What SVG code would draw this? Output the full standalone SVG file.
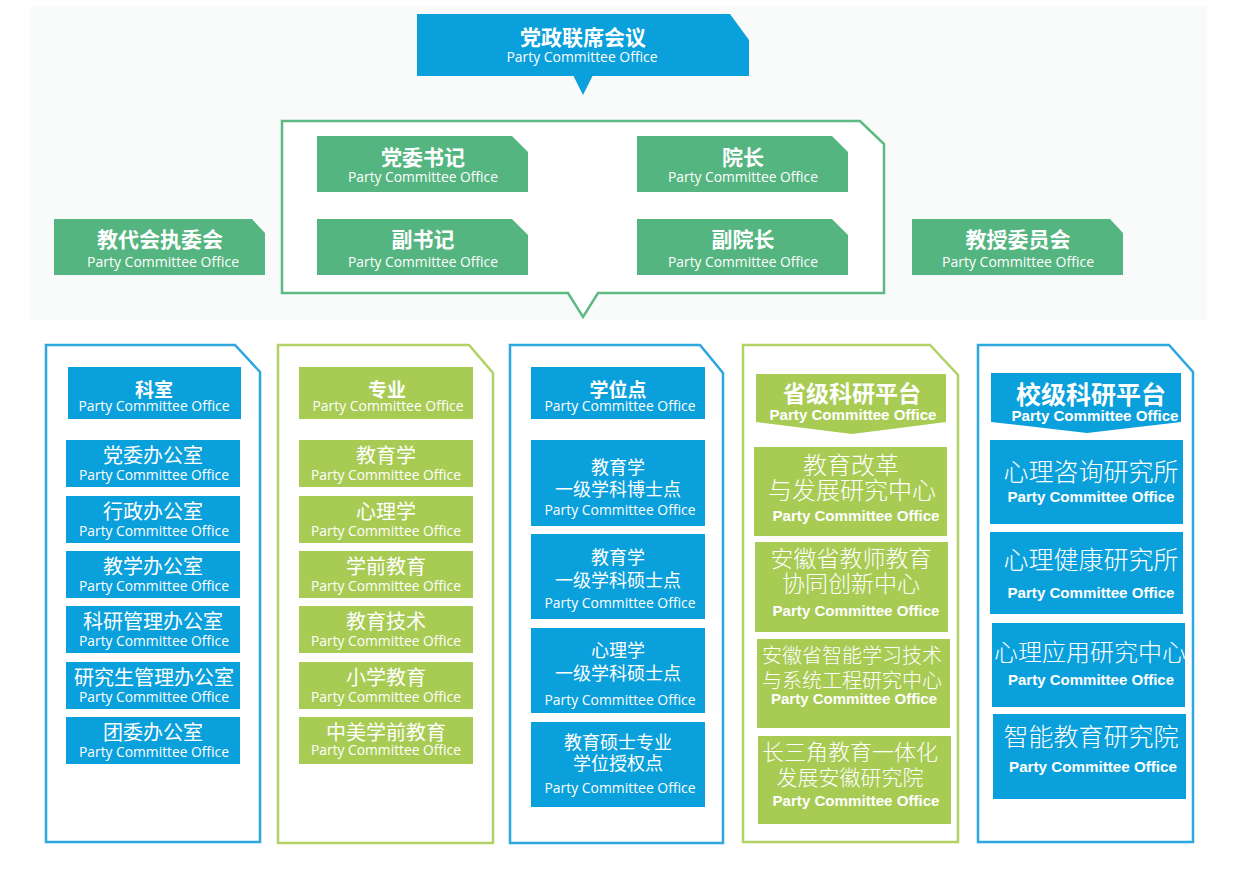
<svg xmlns="http://www.w3.org/2000/svg" width="1246" height="880" viewBox="0 0 1246 880">
<style>
.blue{fill:#0aa0dc}
.green{fill:#55b580}
.lime{fill:#a8cb54}
.frame-g{fill:#fff;stroke:#5dba83;stroke-width:2.5}
.frame-b{fill:#fff;stroke:#2ea6de;stroke-width:2.5}
.frame-l{fill:#fff;stroke:#b2d265;stroke-width:2.5}
text{fill:#fff;text-anchor:middle}
.t{font-family:"Noto Sans CJK SC",sans-serif;font-weight:700}
.c{font-family:"Noto Sans CJK SC",sans-serif;font-weight:400}
.cl{font-family:"Noto Sans CJK SC",sans-serif;font-weight:300}
.s{font-family:"Open Sans","Liberation Sans",sans-serif;font-size:14px}
.sb{font-family:"Liberation Sans","DejaVu Sans",sans-serif;font-size:14px;font-weight:700}
</style>
<rect x="0" y="0" width="1246" height="880" fill="#ffffff"/>
<rect x="30" y="6" width="1177" height="314" fill="#f9fafa"/>

<g id="connectors">
  <path class="blue" d="M573,75 L583,95 L593,75 Z"/>
  <path class="green" d="M413,191 L423,208 L433,191 Z"/>
  <path class="green" d="M733,191 L743,208 L753,191 Z"/>
  <path class="blue" d="M144,418 L154,436 L164,418 Z"/>
  <path class="lime" d="M377,418 L387,436 L397,418 Z"/>
  <path class="blue" d="M607,418 L617,436 L627,418 Z"/>
</g>

<g id="n-top">
  <path class="blue" d="M417,14 H730 L749,40 V76 H417 Z"/>
  <text class="t" x="583" y="45" font-size="21">党政联席会议</text>
  <text class="s" x="582" y="62" textLength="151" lengthAdjust="spacingAndGlyphs">Party Committee Office</text>
</g>

<g id="leadership">
  <path class="frame-g" d="M282,121 H860 L884,144 V293 H598 L583,317 L568,293 H282 Z"/>
</g>

<g id="n-dwsj">
  <path class="green" d="M317,136 H512 L528,152 V192 H317 Z"/>
  <text class="t" x="423" y="165" font-size="21">党委书记</text>
  <text class="s" x="423" y="182" textLength="150" lengthAdjust="spacingAndGlyphs">Party Committee Office</text>
</g>
<g id="n-fsj">
  <path class="green" d="M317,219 H512 L528,235 V275 H317 Z"/>
  <text class="t" x="423" y="247" font-size="21">副书记</text>
  <text class="s" x="423" y="267" textLength="150" lengthAdjust="spacingAndGlyphs">Party Committee Office</text>
</g>
<g id="n-yz">
  <path class="green" d="M637,136 H832 L848,152 V192 H637 Z"/>
  <text class="t" x="743" y="165" font-size="21">院长</text>
  <text class="s" x="743" y="182" textLength="150" lengthAdjust="spacingAndGlyphs">Party Committee Office</text>
</g>
<g id="n-fyz">
  <path class="green" d="M637,219 H832 L848,235 V275 H637 Z"/>
  <text class="t" x="743" y="247" font-size="21">副院长</text>
  <text class="s" x="743" y="267" textLength="150" lengthAdjust="spacingAndGlyphs">Party Committee Office</text>
</g>
<g id="n-jdh">
  <path class="green" d="M54,219 H252 L265,233 V275 H54 Z"/>
  <text class="t" x="160" y="247" font-size="21">教代会执委会</text>
  <text class="s" x="163" y="267" textLength="152" lengthAdjust="spacingAndGlyphs">Party Committee Office</text>
</g>
<g id="n-jswyh">
  <path class="green" d="M912,219 H1110 L1123,233 V275 H912 Z"/>
  <text class="t" x="1018" y="247" font-size="21">教授委员会</text>
  <text class="s" x="1018" y="267" textLength="152" lengthAdjust="spacingAndGlyphs">Party Committee Office</text>
</g>

<!-- Column 1 -->
<g id="col-ks">
  <path class="frame-b" d="M46,345 H235 L260,372 V842 H46 Z"/>
  <rect class="blue" x="68" y="367" width="173" height="52"/>
  <text class="t" x="154" y="397" font-size="19">科室</text>
  <text class="s" x="154" y="411" textLength="151" lengthAdjust="spacingAndGlyphs">Party Committee Office</text>
</g>
<g id="n-k1"><rect class="blue" x="66" y="440" width="174" height="47"/><text class="c" x="153" y="463" font-size="20">党委办公室</text><text class="s" x="154" y="480" textLength="150" lengthAdjust="spacingAndGlyphs">Party Committee Office</text></g>
<g id="n-k2"><rect class="blue" x="66" y="496" width="174" height="47"/><text class="c" x="153" y="519" font-size="20">行政办公室</text><text class="s" x="154" y="536" textLength="150" lengthAdjust="spacingAndGlyphs">Party Committee Office</text></g>
<g id="n-k3"><rect class="blue" x="66" y="551" width="174" height="47"/><text class="c" x="153" y="574" font-size="20">教学办公室</text><text class="s" x="154" y="591" textLength="150" lengthAdjust="spacingAndGlyphs">Party Committee Office</text></g>
<g id="n-k4"><rect class="blue" x="66" y="606" width="174" height="47"/><text class="c" x="153" y="629" font-size="20">科研管理办公室</text><text class="s" x="154" y="646" textLength="150" lengthAdjust="spacingAndGlyphs">Party Committee Office</text></g>
<g id="n-k5"><rect class="blue" x="66" y="662" width="174" height="47"/><text class="c" x="154" y="685" font-size="20">研究生管理办公室</text><text class="s" x="154" y="702" textLength="150" lengthAdjust="spacingAndGlyphs">Party Committee Office</text></g>
<g id="n-k6"><rect class="blue" x="66" y="717" width="174" height="47"/><text class="c" x="153" y="740" font-size="20">团委办公室</text><text class="s" x="154" y="757" textLength="150" lengthAdjust="spacingAndGlyphs">Party Committee Office</text></g>

<!-- Column 2 -->
<g id="col-zy">
  <path class="frame-l" d="M278,345 H469 L493,373 V843 H278 Z"/>
  <rect class="lime" x="299" y="367" width="174" height="52"/>
  <text class="t" x="387" y="397" font-size="19">专业</text>
  <text class="s" x="388" y="411" textLength="151" lengthAdjust="spacingAndGlyphs">Party Committee Office</text>
</g>
<g id="n-z1"><rect class="lime" x="299" y="440" width="174" height="47"/><text class="c" x="386" y="463" font-size="20">教育学</text><text class="s" x="386" y="480" textLength="150" lengthAdjust="spacingAndGlyphs">Party Committee Office</text></g>
<g id="n-z2"><rect class="lime" x="299" y="496" width="174" height="47"/><text class="c" x="386" y="519" font-size="20">心理学</text><text class="s" x="386" y="536" textLength="150" lengthAdjust="spacingAndGlyphs">Party Committee Office</text></g>
<g id="n-z3"><rect class="lime" x="299" y="551" width="174" height="47"/><text class="c" x="386" y="574" font-size="20">学前教育</text><text class="s" x="386" y="591" textLength="150" lengthAdjust="spacingAndGlyphs">Party Committee Office</text></g>
<g id="n-z4"><rect class="lime" x="299" y="606" width="174" height="47"/><text class="c" x="386" y="629" font-size="20">教育技术</text><text class="s" x="386" y="646" textLength="150" lengthAdjust="spacingAndGlyphs">Party Committee Office</text></g>
<g id="n-z5"><rect class="lime" x="299" y="662" width="174" height="47"/><text class="c" x="386" y="685" font-size="20">小学教育</text><text class="s" x="386" y="702" textLength="150" lengthAdjust="spacingAndGlyphs">Party Committee Office</text></g>
<g id="n-z6"><rect class="lime" x="299" y="717" width="174" height="47"/><text class="c" x="386" y="740" font-size="20">中美学前教育</text><text class="s" x="386" y="755" textLength="150" lengthAdjust="spacingAndGlyphs">Party Committee Office</text></g>

<!-- Column 3 -->
<g id="col-xwd">
  <path class="frame-b" d="M510,345 H700 L723,373 V843 H510 Z"/>
  <rect class="blue" x="531" y="367" width="174" height="52"/>
  <text class="t" x="618" y="397" font-size="19">学位点</text>
  <text class="s" x="620" y="411" textLength="151" lengthAdjust="spacingAndGlyphs">Party Committee Office</text>
</g>
<g id="n-x1"><rect class="blue" x="531" y="440" width="174" height="86"/><text class="c" x="618" y="474" font-size="18">教育学</text><text class="c" x="618" y="496" font-size="18">一级学科博士点</text><text class="s" x="620" y="515" textLength="151" lengthAdjust="spacingAndGlyphs">Party Committee Office</text></g>
<g id="n-x2"><rect class="blue" x="531" y="534" width="174" height="85"/><text class="c" x="618" y="564" font-size="18">教育学</text><text class="c" x="618" y="587" font-size="18">一级学科硕士点</text><text class="s" x="620" y="608" textLength="151" lengthAdjust="spacingAndGlyphs">Party Committee Office</text></g>
<g id="n-x3"><rect class="blue" x="531" y="628" width="174" height="85"/><text class="c" x="618" y="657" font-size="18">心理学</text><text class="c" x="618" y="680" font-size="18">一级学科硕士点</text><text class="s" x="620" y="705" textLength="151" lengthAdjust="spacingAndGlyphs">Party Committee Office</text></g>
<g id="n-x4"><rect class="blue" x="531" y="722" width="174" height="85"/><text class="c" x="618" y="749" font-size="18">教育硕士专业</text><text class="c" x="618" y="770" font-size="18">学位授权点</text><text class="s" x="620" y="793" textLength="151" lengthAdjust="spacingAndGlyphs">Party Committee Office</text></g>

<!-- Column 4 -->
<g id="col-sj">
  <path class="frame-l" d="M743,345 H930 L958,375 V842 H743 Z"/>
  <path class="lime" d="M756,374 H946 V422 L852,434 L756,422 Z"/>
  <text class="t" x="852" y="402" font-size="23">省级科研平台</text>
  <text class="sb" x="853" y="420" textLength="167" lengthAdjust="spacingAndGlyphs">Party Committee Office</text>
</g>
<g id="n-s1"><rect class="lime" x="754" y="447" width="193" height="89"/><text class="cl" x="851" y="474" font-size="24">教育改革</text><text class="cl" x="852" y="499" font-size="24">与发展研究中心</text><text class="sb" x="856" y="521" textLength="167" lengthAdjust="spacingAndGlyphs">Party Committee Office</text></g>
<g id="n-s2"><rect class="lime" x="755" y="542" width="193" height="90"/><text class="cl" x="851" y="567" font-size="23">安徽省教师教育</text><text class="cl" x="851" y="592" font-size="23">协同创新中心</text><text class="sb" x="856" y="616" textLength="167" lengthAdjust="spacingAndGlyphs">Party Committee Office</text></g>
<g id="n-s3"><rect class="lime" x="757" y="639" width="193" height="89"/><text class="cl" x="852" y="663" font-size="20">安徽省智能学习技术</text><text class="cl" x="852" y="688" font-size="20">与系统工程研究中心</text><text class="sb" x="854" y="704" textLength="166" lengthAdjust="spacingAndGlyphs">Party Committee Office</text></g>
<g id="n-s4"><rect class="lime" x="758" y="736" width="193" height="88"/><text class="cl" x="850" y="760" font-size="22">长三角教育一体化</text><text class="cl" x="850" y="785" font-size="21">发展安徽研究院</text><text class="sb" x="856" y="806" textLength="167" lengthAdjust="spacingAndGlyphs">Party Committee Office</text></g>

<!-- Column 5 -->
<g id="col-xj">
  <path class="frame-b" d="M978,345 H1169 L1193,372 V842 H978 Z"/>
  <path class="blue" d="M991,373 H1181 V422 L1087,433 L991,422 Z"/>
  <text class="t" x="1091" y="404" font-size="25">校级科研平台</text>
  <text class="sb" x="1095" y="421" textLength="167" lengthAdjust="spacingAndGlyphs">Party Committee Office</text>
</g>
<g id="n-y1"><rect class="blue" x="990" y="440" width="193" height="84"/><text class="cl" x="1091" y="481" font-size="25">心理咨询研究所</text><text class="sb" x="1091" y="502" textLength="167" lengthAdjust="spacingAndGlyphs">Party Committee Office</text></g>
<g id="n-y2"><rect class="blue" x="990" y="532" width="193" height="82"/><text class="cl" x="1091" y="569" font-size="25">心理健康研究所</text><text class="sb" x="1091" y="598" textLength="167" lengthAdjust="spacingAndGlyphs">Party Committee Office</text></g>
<g id="n-y3"><rect class="blue" x="992" y="623" width="193" height="84"/><text class="cl" x="1090" y="661" font-size="24">心理应用研究中心</text><text class="sb" x="1091" y="685" textLength="166" lengthAdjust="spacingAndGlyphs">Party Committee Office</text></g>
<g id="n-y4"><rect class="blue" x="993" y="714" width="193" height="85"/><text class="cl" x="1091" y="746" font-size="25">智能教育研究院</text><text class="sb" x="1093" y="772" textLength="168" lengthAdjust="spacingAndGlyphs">Party Committee Office</text></g>
</svg>
